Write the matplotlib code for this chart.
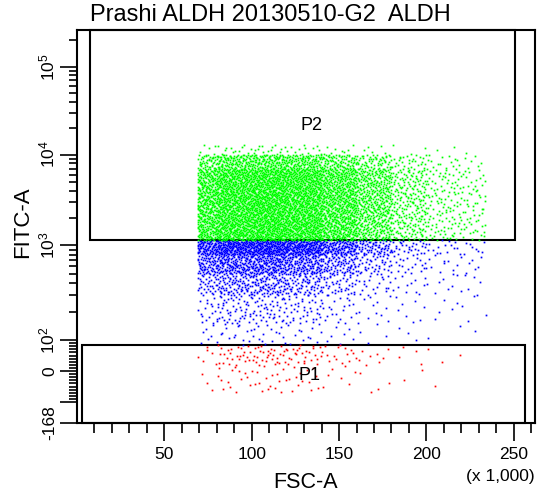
import numpy as np
import matplotlib
matplotlib.use("Agg")
import matplotlib.pyplot as plt
from matplotlib.patches import Rectangle
from matplotlib.ticker import FixedLocator, FixedFormatter, NullFormatter

plt.rcParams['font.family'] = ['Liberation Sans', 'DejaVu Sans']
plt.rcParams['mathtext.fontset'] = 'custom'
plt.rcParams['mathtext.rm'] = 'Liberation Sans'
plt.rcParams['mathtext.it'] = 'Liberation Sans'
plt.rcParams['mathtext.default'] = 'rm'

title = "Prashi ALDH 20130510-G2  ALDH"

# FSC-A bins (x 1,000) and FITC-A bins used for the event counts
fsc_edges = [69, 80, 100, 120, 140, 160, 180, 200, 220, 234]
fitc_edges = [-70, 20, 84, 150, 300, 500, 800, 1135, 2000, 4000, 7000, 10000, 13000]

# events per cell, rows from low FITC to high FITC
counts = [
    [3, 14, 16, 13, 7, 4, 2, 1, 0],
    [6, 25, 30, 25, 15, 8, 4, 3, 0],
    [6, 15, 15, 12, 7, 4, 3, 2, 1],
    [18, 50, 50, 40, 22, 12, 8, 5, 4],
    [35, 90, 95, 75, 45, 22, 12, 8, 5],
    [70, 160, 170, 140, 90, 45, 20, 12, 6],
    [90, 210, 220, 200, 130, 70, 30, 15, 8],
    [130, 300, 320, 300, 230, 150, 75, 40, 20],
    [160, 360, 390, 360, 290, 190, 95, 45, 24],
    [120, 280, 300, 280, 220, 150, 70, 35, 16],
    [45, 120, 130, 120, 90, 60, 28, 14, 6],
    [5, 12, 14, 12, 8, 5, 3, 2, 1],
]

# gates
p1_fsc = [2.9, 256.4]
p1_fitc = [-168, 84]
p2_fsc = [7.4, 250.7]
p2_fitc = [1135, 262144]

x_major = [50, 100, 150, 200, 250]
y_major = [-168, -100, 0, 100, 1000, 10000, 100000]
y_labels = ['-168', '', '0', '$10^{2}$', '$10^{3}$', '$10^{4}$', '$10^{5}$']

# biexponential-like display: linear below 100, log above
dec_log = [2, 3, 4, 5, 6]
dec_pos = [31, 126, 217, 305, 393]

def biex(v):
    v = np.asarray(v, dtype=float)
    lg = np.log10(np.maximum(v, 100.0))
    return np.where(v <= 100, 0.31 * v, np.interp(lg, dec_log, dec_pos))

def biex_inv(p):
    p = np.asarray(p, dtype=float)
    return np.where(p <= 31, p / 0.31, 10 ** np.interp(p, dec_pos, dec_log))

def halton(i, b):
    f, r = 1.0, 0.0
    while i > 0:
        f /= b
        r += f * (i % b)
        i //= b
    return r

# spread each cell's events evenly over the cell
xs, ys = [], []
idx = 0
for r, row in enumerate(counts):
    p0, p1 = biex(fitc_edges[r]), biex(fitc_edges[r + 1])
    for c, n in enumerate(row):
        x0, x1 = fsc_edges[c], fsc_edges[c + 1]
        for k in range(n):
            idx += 1
            xs.append(x0 + halton(idx, 2) * (x1 - x0))
            ys.append(float(biex_inv(p0 + halton(idx, 3) * (p1 - p0))))
xs = np.array(xs)
ys = np.array(ys)

in_p2 = (xs >= p2_fsc[0]) & (xs <= p2_fsc[1]) & (ys >= p2_fitc[0])
in_p1 = (xs >= p1_fsc[0]) & (xs <= p1_fsc[1]) & (ys <= p1_fitc[1])
rest = ~(in_p1 | in_p2)

fig = plt.figure(figsize=(5.39, 4.97), dpi=100)
ax = fig.add_axes([77 / 539, 1 - 423 / 497, 458 / 539, 393 / 497])
ax.set_yscale('function', functions=(biex, biex_inv))
ax.set_xlim(0, 262.144)
ax.set_ylim(-168, 262144)

ax.plot(xs[rest], ys[rest], 's', color='#0000ff', ms=1.25, mew=0)
ax.plot(xs[in_p2], ys[in_p2], 's', color='#00ff00', ms=1.25, mew=0)
ax.plot(xs[in_p1], ys[in_p1], 's', color='#ff0000', ms=1.25, mew=0)

ax.add_patch(Rectangle((p2_fsc[0], p2_fitc[0]), p2_fsc[1] - p2_fsc[0],
                       p2_fitc[1] - p2_fitc[0], fill=False, ec='black', lw=1.5, clip_on=False))
ax.add_patch(Rectangle((p1_fsc[0], p1_fitc[0]), p1_fsc[1] - p1_fsc[0],
                       p1_fitc[1] - p1_fitc[0], fill=False, ec='black', lw=1.5, clip_on=False))
ax.text(134, 21400, 'P2', ha='center', va='center', fontsize=13)
ax.text(133, -16, 'P1', ha='center', va='center', fontsize=13)

# ticks
ax.xaxis.set_major_locator(FixedLocator(x_major))
ax.xaxis.set_minor_locator(FixedLocator([v for v in range(10, 262, 10) if v % 50]))
ax.yaxis.set_major_locator(FixedLocator(y_major))
ax.yaxis.set_major_formatter(FixedFormatter(y_labels))
y_minor = [v for v in range(-90, 100, 10) if v != 0]
y_minor += [k * 10 ** e for e in range(2, 6) for k in range(2, 10) if k * 10 ** e < 262144]
ax.yaxis.set_minor_locator(FixedLocator(y_minor))
ax.yaxis.set_minor_formatter(NullFormatter())
ax.tick_params(axis='x', which='major', length=13, width=1.2, labelsize=12.5, pad=4)
ax.tick_params(axis='x', which='minor', length=7, width=1.2)
ax.tick_params(axis='y', which='major', length=12, width=1.2, labelsize=12.5, pad=2)
ax.tick_params(axis='y', which='minor', length=6, width=1.2)
for lab in ax.get_yticklabels():
    lab.set_rotation(90)
    lab.set_va('center')
for s in ax.spines.values():
    s.set_linewidth(1.5)

fig.text(90 / 539, 1 - 15 / 497, title, ha='left', va='center', fontsize=17)
fig.text(306 / 539, 1 - 482 / 497, 'FSC-A', ha='center', va='center', fontsize=15.5)
fig.text(535 / 539, 1 - 477 / 497, '(x 1,000)', ha='right', va='center', fontsize=12.5)
fig.text(23 / 539, 1 - 222 / 497, 'FITC-A', ha='center', va='center', fontsize=16, rotation=90)

fig.savefig('out.png', dpi=100)
